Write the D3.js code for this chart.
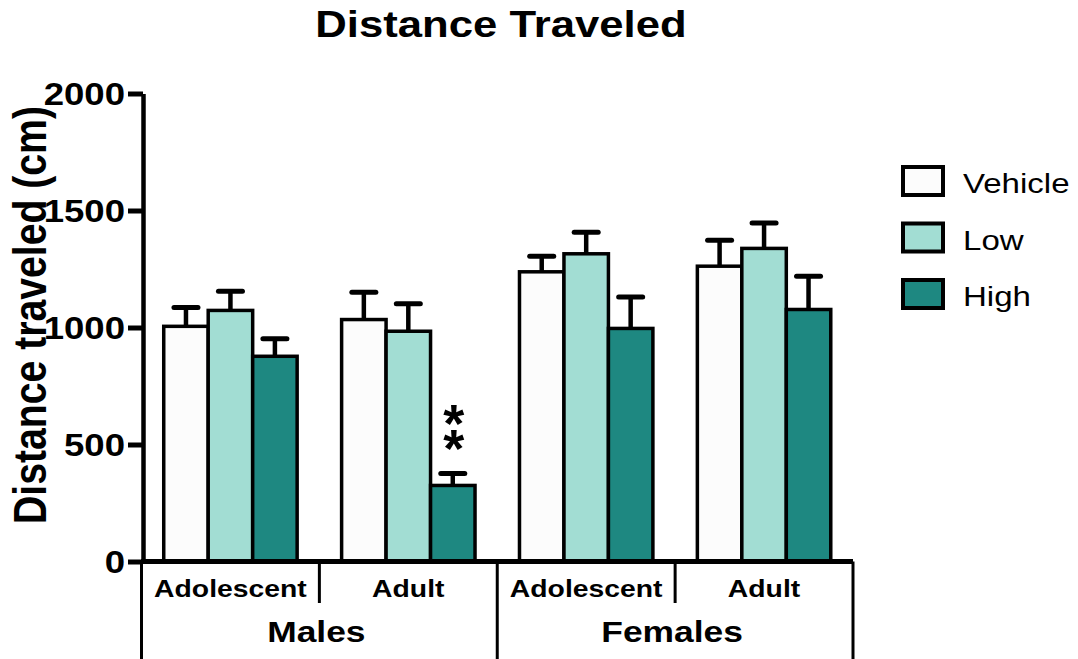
<!DOCTYPE html>
<html>
<head>
<meta charset="utf-8">
<script src="https://cdn.jsdelivr.net/npm/d3@7"></script>
<style>
  body { margin: 0; background: #fff; }
  text { font-family: "Liberation Sans", Arial, sans-serif; }
</style>
</head>
<body>
<div id="chart"></div>
<script>
/**
 * DATA
 * */
const groups = ["M-Adolescent", "M-Adult", "F-Adolescent", "F-Adult"];
const groupLabels = ["Adolescent", "Adult", "Adolescent", "Adult"];
const sexes = ["Males", "Females"];
const series = ["Vehicle", "Low", "High"];
const vehicle = [1005, 1034, 1238, 1262];
const low = [1073, 984, 1315, 1338];
const high = [877, 325, 996, 1077];
const vehicleErr = [80, 117, 67, 111];
const lowErr = [82, 117, 92, 109];
const highErr = [75, 51, 134, 142];
const yTicks = [0, 500, 1000, 1500, 2000];
// significance marks: group index, series
const marks = [{ group: 1, series: "High", label: "**" }];

/**
 * CONSTANTS
 * */
const width = 1078, height = 659;
const colors = { Vehicle: "#fcfcfc", Low: "#a2ddd3", High: "#1e8881" };
const STRETCH = 1.18; // text in the original is a bit wide

const values = { Vehicle: vehicle, Low: low, High: high };
const errs = { Vehicle: vehicleErr, Low: lowErr, High: highErr };

const rows = [];
groups.forEach((g, i) => {
  series.forEach(s => {
    rows.push({ group: g, series: s, value: values[s][i], err: errs[s][i] });
  });
});

const svg = d3.select("#chart")
  .append("svg")
  .attr("width", width)
  .attr("height", height);

const y = d3.scaleLinear().domain([0, 2000]).range([561.5, 93.5]);

const x0 = d3.scaleBand()
  .domain(groups)
  .range([141.5, 853])
  .paddingInner(0.25)
  .paddingOuter(0.125);

const x1 = d3.scaleBand()
  .domain(series)
  .range([0, x0.bandwidth()]);

function stretch(sel, k) {
  sel.each(function () {
    const w = this.getComputedTextLength();
    d3.select(this).attr("textLength", w * k).attr("lengthAdjust", "spacingAndGlyphs");
  });
}

// title
svg.append("text")
  .attr("x", 501)
  .attr("y", 37)
  .attr("text-anchor", "middle")
  .attr("font-size", 37)
  .attr("font-weight", "bold")
  .text("Distance Traveled")
  .call(stretch, STRETCH);

// y label
svg.append("text")
  .attr("transform", "translate(46,315) rotate(-90)")
  .attr("text-anchor", "middle")
  .attr("font-size", 46)
  .attr("font-weight", "bold")
  .attr("textLength", 418)
  .attr("lengthAdjust", "spacingAndGlyphs")
  .text("Distance traveled (cm)");

// bars
svg.append("g")
  .selectAll("rect")
  .data(rows)
  .join("rect")
  .attr("x", d => x0(d.group) + x1(d.series))
  .attr("y", d => y(d.value))
  .attr("width", x1.bandwidth())
  .attr("height", d => y(0) - y(d.value))
  .attr("fill", d => colors[d.series])
  .attr("stroke", "#000")
  .attr("stroke-width", 3.5);

// error bars (upper only)
const eb = svg.append("g")
  .selectAll("g")
  .data(rows)
  .join("g")
  .attr("transform", d => `translate(${x0(d.group) + x1(d.series) + x1.bandwidth() / 2},0)`);

eb.append("line")
  .attr("y1", d => y(d.value))
  .attr("y2", d => y(d.value + d.err))
  .attr("stroke", "#000")
  .attr("stroke-width", 4.5);

eb.append("line")
  .attr("x1", -12)
  .attr("x2", 12)
  .attr("y1", d => y(d.value + d.err))
  .attr("y2", d => y(d.value + d.err))
  .attr("stroke", "#000")
  .attr("stroke-width", 5)
  .attr("stroke-linecap", "round");

// significance asterisks, stacked one above the other
marks.forEach(m => {
  const g = groups[m.group];
  const top = y(values[m.series][m.group] + errs[m.series][m.group]);
  const cx = x0(g) + x1(m.series) + x1.bandwidth() / 2 + 1;
  m.label.split("").forEach((c, i, arr) => {
    svg.append("text")
      .attr("x", cx)
      .attr("y", top - 7 - (arr.length - 1 - i) * 24.5)
      .attr("text-anchor", "middle")
      .attr("font-size", 54)
      .attr("font-weight", "bold")
      .text(c);
  });
});

// y axis
const yAxis = svg.append("g")
  .attr("transform", "translate(143,0)")
  .call(d3.axisLeft(y).tickValues(yTicks).tickSize(15).tickSizeOuter(0).tickPadding(3).tickFormat(d3.format("d")));

yAxis.select(".domain").attr("stroke-width", 4.5);
yAxis.selectAll(".tick line").attr("stroke-width", 5);
yAxis.selectAll(".tick text")
  .attr("font-size", 31)
  .attr("font-weight", "bold")
  .attr("fill", "#000")
  .attr("dy", "0.36em")
  .call(stretch, STRETCH);

// x axis baseline
svg.append("line")
  .attr("x1", 141)
  .attr("x2", 853)
  .attr("y1", y(0))
  .attr("y2", y(0))
  .attr("stroke", "#000")
  .attr("stroke-width", 5);

// category brackets
const step = x0.step();
const edgeOffset = step * x0.paddingInner() / 2;
const bounds = groups.map(g => x0(g) - edgeOffset).concat([x0(groups[groups.length - 1]) + x0.bandwidth() + edgeOffset]);

svg.append("g")
  .selectAll("line")
  .data(bounds)
  .join("line")
  .attr("x1", d => d)
  .attr("x2", d => d)
  .attr("y1", y(0))
  .attr("y2", (d, i) => (i % 2 === 0 ? height : 603))
  .attr("stroke", "#000")
  .attr("stroke-width", 3);

svg.append("g")
  .selectAll("text")
  .data(groups)
  .join("text")
  .attr("x", d => x0(d) + x0.bandwidth() / 2)
  .attr("y", 597)
  .attr("text-anchor", "middle")
  .attr("font-size", 24)
  .attr("font-weight", "bold")
  .text((d, i) => groupLabels[i])
  .call(stretch, STRETCH);

svg.append("g")
  .selectAll("text")
  .data(sexes)
  .join("text")
  .attr("x", (d, i) => (bounds[i * 2] + bounds[i * 2 + 2]) / 2 - 3)
  .attr("y", 642)
  .attr("text-anchor", "middle")
  .attr("font-size", 30)
  .attr("font-weight", "bold")
  .text(d => d)
  .call(stretch, STRETCH);

// legend
const legend = svg.append("g")
  .selectAll("g")
  .data(series)
  .join("g")
  .attr("transform", (d, i) => `translate(903,${167 + i * 56.5})`);

legend.append("rect")
  .attr("width", 40)
  .attr("height", 28)
  .attr("fill", d => colors[d])
  .attr("stroke", "#000")
  .attr("stroke-width", 4);

legend.append("text")
  .attr("x", 60)
  .attr("y", 26)
  .attr("font-size", 28)
  .text(d => d)
  .call(stretch, STRETCH);
</script>
</body>
</html>
